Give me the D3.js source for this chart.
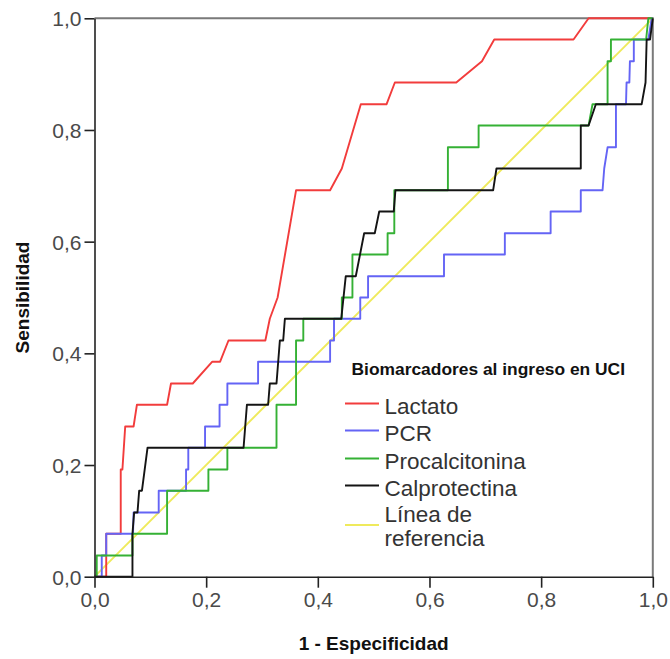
<!DOCTYPE html>
<html>
<head>
<meta charset="utf-8">
<script src="https://cdn.jsdelivr.net/npm/d3@7/dist/d3.min.js"></script>
<style>
  html, body { margin: 0; padding: 0; background: #fff; }
  svg { display: block; font-family: "Liberation Sans", Arial, sans-serif; }
</style>
</head>
<body>
<svg id="chart" width="670" height="659"></svg>
<script>
// ROC curves: [1 - especificidad, sensibilidad]
const lactato = [
  [0,0],[0.021,0],[0.021,0.077],[0.047,0.077],[0.047,0.192],[0.050,0.192],[0.055,0.269],
  [0.070,0.269],[0.076,0.308],[0.130,0.308],[0.137,0.346],[0.176,0.346],[0.211,0.385],
  [0.225,0.385],[0.240,0.423],[0.306,0.423],[0.314,0.462],[0.328,0.500],[0.361,0.692],
  [0.422,0.692],[0.443,0.731],[0.477,0.846],[0.523,0.846],[0.538,0.885],[0.648,0.885],
  [0.694,0.923],[0.716,0.962],[0.858,0.962],[0.885,1],[1,1]
];
const pcr = [
  [0,0],[0.013,0],[0.013,0.038],[0.021,0.038],[0.021,0.077],[0.069,0.077],[0.070,0.115],
  [0.115,0.115],[0.115,0.154],[0.164,0.154],[0.164,0.192],[0.168,0.192],[0.168,0.231],
  [0.198,0.231],[0.198,0.269],[0.224,0.269],[0.224,0.308],[0.238,0.308],[0.238,0.346],
  [0.293,0.346],[0.293,0.385],[0.422,0.385],[0.422,0.423],[0.429,0.423],[0.429,0.462],
  [0.476,0.462],[0.476,0.500],[0.490,0.500],[0.490,0.538],[0.626,0.538],[0.626,0.577],
  [0.735,0.577],[0.735,0.615],[0.817,0.615],[0.817,0.654],[0.871,0.654],[0.871,0.692],
  [0.910,0.692],[0.913,0.731],[0.919,0.769],[0.934,0.769],[0.934,0.846],[0.952,0.846],
  [0.953,0.885],[0.958,0.885],[0.959,0.923],[0.966,0.923],[0.966,0.962],[0.992,0.962],
  [0.998,1],[1,1]
];
const procalcitonina = [
  [0,0],[0.004,0],[0.004,0.038],[0.068,0.038],[0.068,0.077],[0.130,0.077],[0.130,0.154],
  [0.204,0.154],[0.204,0.192],[0.238,0.192],[0.238,0.231],[0.326,0.231],[0.326,0.308],
  [0.361,0.308],[0.361,0.423],[0.374,0.423],[0.374,0.462],[0.443,0.462],[0.443,0.500],
  [0.462,0.500],[0.462,0.577],[0.525,0.577],[0.525,0.615],[0.537,0.615],[0.537,0.692],
  [0.633,0.692],[0.633,0.769],[0.688,0.769],[0.688,0.808],[0.885,0.808],[0.892,0.846],
  [0.919,0.846],[0.919,0.923],[0.925,0.923],[0.925,0.962],[0.988,0.962],[0.992,1],[1,1]
];
const calprotectina = [
  [0,0],[0.068,0],[0.068,0.077],[0.071,0.115],[0.077,0.115],[0.080,0.154],[0.085,0.154],
  [0.095,0.231],[0.267,0.231],[0.273,0.308],[0.311,0.308],[0.314,0.346],[0.326,0.346],
  [0.332,0.423],[0.338,0.423],[0.341,0.462],[0.442,0.462],[0.450,0.538],[0.468,0.538],
  [0.483,0.615],[0.502,0.615],[0.510,0.654],[0.536,0.654],[0.539,0.692],[0.714,0.692],
  [0.720,0.731],[0.871,0.731],[0.871,0.808],[0.885,0.808],[0.898,0.846],[0.980,0.846],
  [0.987,0.885],[0.989,0.962],[0.995,0.962],[1,1]
];
const referencia = [[0,0],[1,1]];

const tickValues = [0, 0.2, 0.4, 0.6, 0.8, 1.0];
const legendTitle = "Biomarcadores al ingreso en UCI";
const series = [
  { name: "Lactato", data: lactato, color: "#f23c3c" },
  { name: "PCR", data: pcr, color: "#6464f5" },
  { name: "Procalcitonina", data: procalcitonina, color: "#35b135" },
  { name: "Calprotectina", data: calprotectina, color: "#141414" },
  { name: ["Línea de", "referencia"], data: referencia, color: "#efea5c" }
];

const svg = d3.select("#chart");
const plot = { left: 94.5, right: 652.8, top: 18.3, bottom: 576.7 };
const x = d3.scaleLinear().domain([0, 1]).range([plot.left, plot.right]);
const y = d3.scaleLinear().domain([0, 1]).range([plot.bottom, plot.top]);
const fmt = d => d3.format(".1f")(d).replace(".", ",");

// frame: top and right edges
svg.append("path")
  .attr("d", `M${plot.left},${plot.top}H${plot.right}V${plot.bottom}`)
  .attr("fill", "none").attr("stroke", "#7a7a7a").attr("stroke-width", 2);

const line = d3.line().x(d => x(d[0])).y(d => y(d[1]));

// reference diagonal underneath, then the curves
const drawOrder = [4, 0, 1, 2, 3];
drawOrder.forEach(i => {
  svg.append("path")
    .datum(series[i].data)
    .attr("d", line)
    .attr("fill", "none")
    .attr("stroke", series[i].color)
    .attr("stroke-width", 1.9)
    .attr("stroke-linejoin", "round");
});

// axes
const xAxis = svg.append("g")
  .attr("transform", `translate(0,${plot.bottom})`)
  .call(d3.axisBottom(x).tickValues(tickValues).tickFormat(fmt).tickSizeInner(11).tickSizeOuter(0).tickPadding(4));
const yAxis = svg.append("g")
  .attr("transform", `translate(${plot.left},0)`)
  .call(d3.axisLeft(y).tickValues(tickValues).tickFormat(fmt).tickSizeInner(10).tickSizeOuter(0).tickPadding(3));
[xAxis, yAxis].forEach(g => {
  g.select(".domain").attr("stroke", "#222").attr("stroke-width", 1.6);
  g.selectAll(".tick line").attr("stroke", "#222").attr("stroke-width", 1.6);
  g.selectAll(".tick text").attr("fill", "#4a4a4a").attr("font-size", 21)
    .attr("font-family", "'Liberation Sans', Arial, sans-serif");
});
yAxis.selectAll(".tick text").attr("dy", "0.35em");

// axis titles
svg.append("text")
  .attr("x", (plot.left + plot.right) / 2).attr("y", 650)
  .attr("text-anchor", "middle").attr("font-weight", "bold").attr("font-size", 19)
  .attr("fill", "#111").text("1 - Especificidad");
svg.append("text")
  .attr("transform", `translate(29,${(plot.top + plot.bottom) / 2}) rotate(-90)`)
  .attr("text-anchor", "middle").attr("font-weight", "bold").attr("font-size", 19)
  .attr("fill", "#111").text("Sensibilidad");

// legend
const legend = svg.append("g");
legend.append("text")
  .attr("x", 351.5).attr("y", 375)
  .attr("font-weight", "bold").attr("font-size", 17.4).attr("fill", "#111")
  .text(legendTitle);
const legendLineY = [403.5, 430.5, 458.5, 485.5, 525];
const legendTextY = [[413.5], [440.5], [468.5], [495.5], [521.5, 545.5]];
series.forEach((s, i) => {
  legend.append("line")
    .attr("x1", 345).attr("x2", 379)
    .attr("y1", legendLineY[i]).attr("y2", legendLineY[i])
    .attr("stroke", s.color).attr("stroke-width", 1.9);
  const lines = Array.isArray(s.name) ? s.name : [s.name];
  lines.forEach((t, j) => {
    legend.append("text")
      .attr("x", 384.5).attr("y", legendTextY[i][j])
      .attr("font-size", 22.5).attr("fill", "#333")
      .text(t);
  });
});
</script>
</body>
</html>
